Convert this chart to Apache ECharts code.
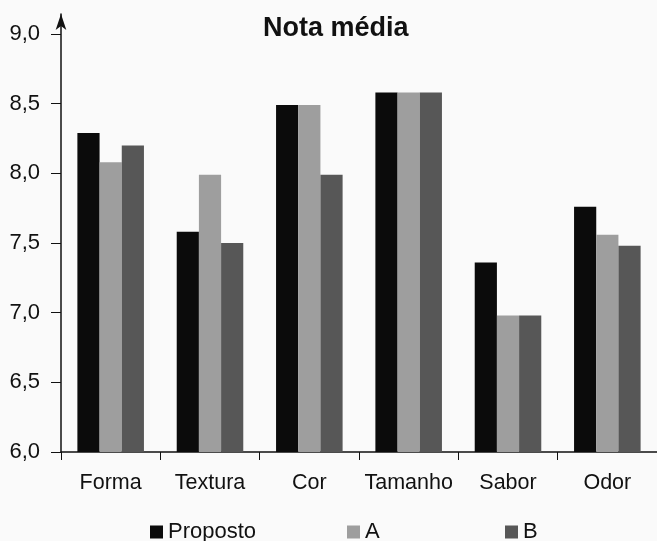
<!DOCTYPE html>
<html>
<head>
<meta charset="utf-8">
<script src="https://cdn.jsdelivr.net/npm/echarts@6/dist/echarts.min.js"></script>
<style>
html,body{margin:0;padding:0;background:#fafafa;}
#c{width:657px;height:541px;}
</style>
</head>
<body>
<div id="c"></div>
<script>
const categories = ['Forma', 'Textura', 'Cor', 'Tamanho', 'Sabor', 'Odor'];
const seriesNames = ['Proposto', 'A', 'B'];
const proposto = [8.29, 7.58, 8.49, 8.58, 7.36, 7.76];
const serieA = [8.08, 7.99, 8.49, 8.58, 6.98, 7.56];
const serieB = [8.2, 7.5, 7.99, 8.58, 6.98, 7.48];
const yTicks = [6.0, 6.5, 7.0, 7.5, 8.0, 8.5, 9.0];
const colors = ['#0b0b0b', '#9e9e9e', '#575757'];

const font = 'Liberation Sans, Arial, sans-serif';
const chart = echarts.init(document.getElementById('c'), null, {renderer: 'canvas'});
const values = [proposto, serieA, serieB];
chart.setOption({
  backgroundColor: '#fafafa',
  animation: false,
  title: {
    text: 'Nota média',
    left: 258, top: 10,
    textStyle: {fontFamily: font, fontSize: 27, fontWeight: 'bold', color: '#111'}
  },
  legend: seriesNames.map((n, i) => ({
    data: [n],
    left: [145, 342, 500][i],
    top: 516,
    icon: 'rect',
    itemWidth: 13, itemHeight: 13, itemGap: 5,
    textStyle: {fontFamily: font, fontSize: 22, color: '#111'}
  })),
  grid: {left: 61, top: 14, width: 600, bottom: 89, containLabel: false},
  xAxis: {
    type: 'category',
    data: categories,
    axisLine: {lineStyle: {color: '#111', width: 1.5}},
    axisTick: {show: true, interval: 0, length: 8, lineStyle: {color: '#111', width: 1}},
    axisLabel: {interval: 0, fontFamily: font, fontSize: 21.5, color: '#111', margin: 20}
  },
  yAxis: {
    type: 'value',
    min: 6, max: 9.1436,
    splitLine: {show: false},
    axisLine: {show: true, symbol: ['none', 'arrow'], symbolSize: [8, 16], lineStyle: {color: '#111', width: 1.5}},
    axisTick: {show: true, length: 10, customValues: yTicks, lineStyle: {color: '#111', width: 1}},
    axisLabel: {
      customValues: yTicks,
      fontFamily: font, fontSize: 22, color: '#111', margin: 21,
      formatter: v => v.toFixed(1).replace('.', ',')
    }
  },
  series: seriesNames.map((n, i) => ({
    name: n,
    type: 'bar',
    data: values[i],
    itemStyle: {color: colors[i]},
    barGap: '0%',
    barCategoryGap: '33%'
  }))
});
</script>
</body>
</html>
